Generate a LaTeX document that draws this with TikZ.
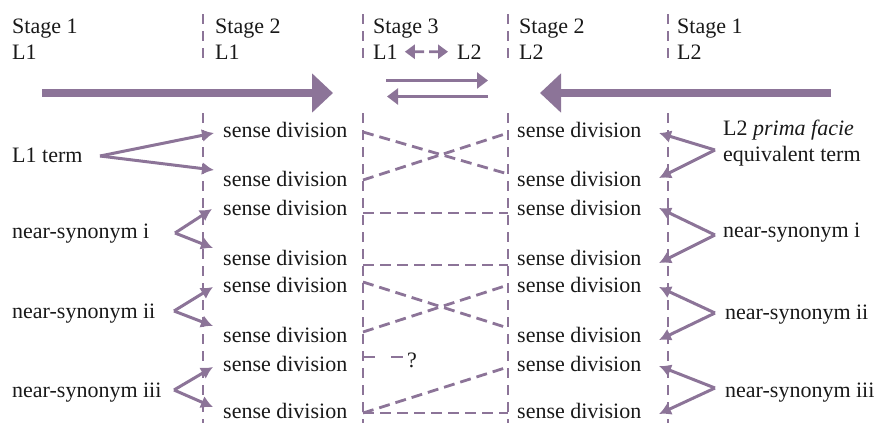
\documentclass[tikz,border=0pt]{standalone}
\usepackage{fontspec}
\setmainfont{Liberation Serif}
\usetikzlibrary{arrows.meta}
\definecolor{pu}{RGB}{140,116,152}
\begin{document}
\begin{tikzpicture}[x=1pt,y=-1pt,
  txt/.style={anchor=base west,inner sep=0pt,font=\fontsize{22}{26}\selectfont,text=black!90},
  vdash/.style={draw=pu,line width=2.8pt,dash pattern=on 10pt off 7pt},
  cdash/.style={draw=pu,line width=2.8pt,dash pattern=on 11pt off 6pt},
  pointer/.style={draw=pu,line width=3pt,-{Latex[length=12pt,width=13pt]}},
  bigarrow/.style={draw=pu,line width=8.5pt,-{Triangle[length=21pt,width=38pt]}},
  midarrow/.style={draw=pu,line width=2.5pt,-{Triangle[length=11pt,width=16pt]}},
  duoarrow/.style={draw=pu,line width=2.8pt,dash pattern=on 10pt off 5pt,{Triangle[length=10pt,width=14pt]}-{Triangle[length=10pt,width=14pt]}},
]
\useasboundingbox (0,0) rectangle (879,423);

% ---------- vertical dashed stage lines ----------
\foreach \n/\x in {a/203,b/363,c/508,d/668}{
  \coordinate (\n top) at (\x,14);
  \coordinate (\n mid) at (\x,62);
  \coordinate (\n low) at (\x,113);
  \coordinate (\n bot) at (\x,423);
  \draw[vdash] (\n top) -- (\n mid);
  \draw[vdash] (\n low) -- (\n bot);
}

% ---------- headers ----------
\node[txt] (s1l) at (12,33) {Stage 1};
\node[txt] (l1a) at (12,59) {L1};
\node[txt] (s2l) at (215,33) {Stage 2};
\node[txt] (l1b) at (215,59) {L1};
\node[txt] (s3)  at (373,33) {Stage 3};
\node[txt] (l1c) at (373,59) {L1};
\node[txt] (l2c) at (457,59) {L2};
\node[txt] (s2r) at (519,33) {Stage 2};
\node[txt] (l2b) at (519,59) {L2};
\node[txt] (s1r) at (677,33) {Stage 1};
\node[txt] (l2a) at (677,59) {L2};

\draw[duoarrow] ([xshift=7pt]l1c.east) -- ([xshift=-9pt]l2c.west);

% ---------- big arrows ----------
\coordinate (bl0) at (42,93);
\coordinate (bl1) at (333,93);
\coordinate (br0) at (831,93);
\coordinate (br1) at (540,93);
\draw[bigarrow] (bl0) -- (bl1);
\draw[bigarrow] (br0) -- (br1);

\coordinate (ma0) at (386,80.5);
\coordinate (ma1) at (488,80.5);
\coordinate (mb0) at (488,96.5);
\coordinate (mb1) at (387,96.5);
\draw[midarrow] (ma0) -- (ma1);
\draw[midarrow] (mb0) -- (mb1);

% ---------- sense divisions ----------
\foreach \i/\y in {1/137,2/186,3/215,4/265,5/292,6/342,7/371,8/418}{
  \node[txt] (sdL\i) at (223,\y) {sense division};
  \node[txt] (sdR\i) at (517,\y) {sense division};
}

% ---------- left labels ----------
\node[txt] (t1) at (12,162) {L1 term};
\node[txt] (n1) at (12,238) {near-synonym i};
\node[txt] (n2) at (12,318) {near-synonym ii};
\node[txt] (n3) at (12,397) {near-synonym iii};

\coordinate (t1o) at (100,156);
\coordinate (n1o) at (175,233);
\coordinate (n2o) at (174,311);
\coordinate (n3o) at (174,390);
\coordinate (pL1) at (214,133);
\coordinate (pL2) at (214,170);
\coordinate (pL3) at (212,209);
\coordinate (pL4) at (213,248);
\coordinate (pL5) at (213,287);
\coordinate (pL6) at (213,326);
\coordinate (pL7) at (213,367);
\coordinate (pL8) at (213,407);
\draw[pointer] (t1o) -- (pL1);
\draw[pointer] (t1o) -- (pL2);
\draw[pointer] (n1o) -- (pL3);
\draw[pointer] (n1o) -- (pL4);
\draw[pointer] (n2o) -- (pL5);
\draw[pointer] (n2o) -- (pL6);
\draw[pointer] (n3o) -- (pL7);
\draw[pointer] (n3o) -- (pL8);

% ---------- right labels ----------
\node[txt] (t2)  at (723,135) {L2 \textit{prima facie}};
\node[txt] (t2b) at (723,161) {equivalent term};
\node[txt] (m1) at (723,237) {near-synonym i};
\node[txt] (m2) at (725,319) {near-synonym ii};
\node[txt] (m3) at (725,397) {near-synonym iii};

\coordinate (t2o) at (715,150);
\coordinate (m1o) at (715,235);
\coordinate (m2o) at (715,313);
\coordinate (m3o) at (715,388);
\coordinate (pR1) at (659,133);
\coordinate (pR2) at (659,178);
\coordinate (pR3) at (659,208);
\coordinate (pR4) at (659,263);
\coordinate (pR5) at (659,287);
\coordinate (pR6) at (659,340);
\coordinate (pR7) at (659,366);
\coordinate (pR8) at (659,414);
\draw[pointer] (t2o) -- (pR1);
\draw[pointer] (t2o) -- (pR2);
\draw[pointer] (m1o) -- (pR3);
\draw[pointer] (m1o) -- (pR4);
\draw[pointer] (m2o) -- (pR5);
\draw[pointer] (m2o) -- (pR6);
\draw[pointer] (m3o) -- (pR7);
\draw[pointer] (m3o) -- (pR8);

% ---------- stage 3 dashed links ----------
\foreach \i/\y in {1/132,2/180,3/213,4/265,5/282,6/332,7/357,8/413}{
  \coordinate (cl\i) at (363,\y);
}
\foreach \i/\y in {1/133,2/174,3/213,4/265,5/285,6/328,8/367,9/413}{
  \coordinate (cr\i) at (508,\y);
}
\draw[cdash] (cl1) -- (cr2);
\draw[cdash] (cl2) -- (cr1);
\draw[cdash] (cl3) -- (cr3);
\draw[cdash] (cl4) -- (cr4);
\draw[cdash] (cl5) -- (cr6);
\draw[cdash] (cl6) -- (cr5);
\draw[cdash] (cl8) -- (cr8);
\draw[cdash] (cl8) -- (cr9);
\node[txt] (q) at (407,367) {?};
\draw[cdash,dash pattern=on 12pt off 16pt] (cl7) -- (q.west |- cl7);
\end{tikzpicture}
\end{document}
